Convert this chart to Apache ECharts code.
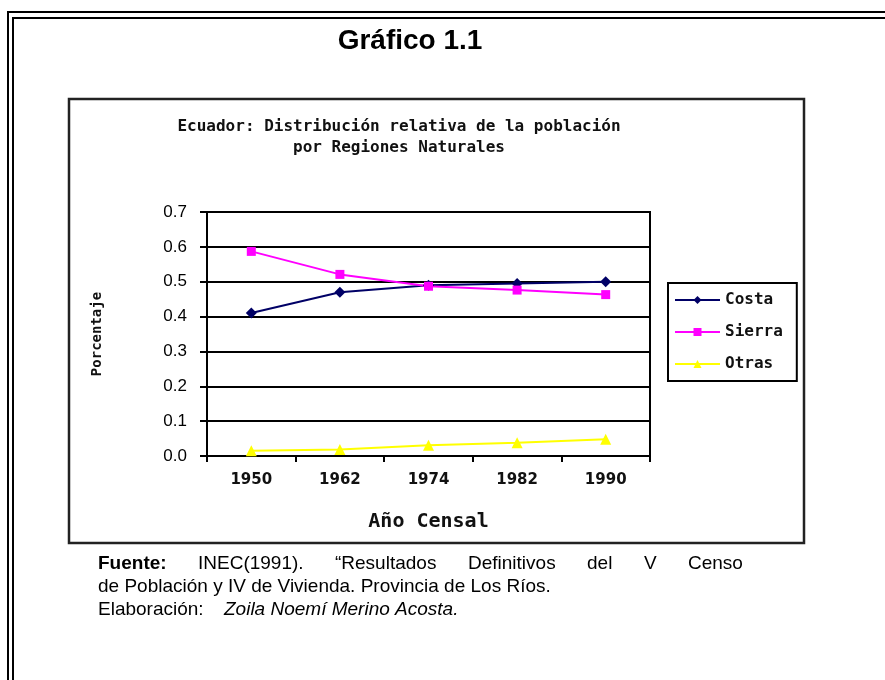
<!DOCTYPE html>
<html>
<head>
<meta charset="utf-8">
<script src="https://cdn.jsdelivr.net/npm/echarts@6/dist/echarts.min.js"></script>
<style>
  html, body { margin: 0; padding: 0; background: #fff; }
  #main { width: 885px; height: 680px; }
</style>
</head>
<body>
<div id="main"></div>
<script>
// datos
var anios = ['1950', '1962', '1974', '1982', '1990'];
var costa = [0.41, 0.47, 0.49, 0.495, 0.50];
var sierra = [0.587, 0.521, 0.487, 0.476, 0.463];
var otras = [0.015, 0.019, 0.031, 0.038, 0.048];
var yTicks = [0, 0.1, 0.2, 0.3, 0.4, 0.5, 0.6, 0.7];

var pixFont = 'DejaVu Sans Mono';
var txtFont = '19px "Liberation Sans", Arial';

var myChart = echarts.init(document.getElementById('main'));

var option = {
    backgroundColor: '#fff',
    animation: false,
    graphic: [
        // doble marco exterior
        { type: 'rect', shape: { x: 8, y: 12, width: 1000, height: 1000 }, style: { fill: null, stroke: '#000', lineWidth: 2 }, silent: true },
        { type: 'rect', shape: { x: 13, y: 18, width: 1000, height: 1000 }, style: { fill: null, stroke: '#000', lineWidth: 2 }, silent: true },
        // marco del grafico
        { type: 'rect', shape: { x: 69, y: 99, width: 735, height: 444 }, style: { fill: null, stroke: '#222', lineWidth: 2.5 }, silent: true, z: 10 },
        { type: 'text', style: { text: 'Gráfico 1.1', x: 410, y: 41, align: 'center', verticalAlign: 'middle', font: 'bold 28px "Liberation Sans", Arial', fill: '#000' } },
        { type: 'text', style: { text: 'Ecuador: Distribución relativa de la población', x: 399, y: 127, align: 'center', verticalAlign: 'middle', font: 'bold 16px "DejaVu Sans Mono"', fill: '#111' } },
        { type: 'text', style: { text: 'por Regiones Naturales', x: 399, y: 148, align: 'center', verticalAlign: 'middle', font: 'bold 16px "DejaVu Sans Mono"', fill: '#111' } },
        // fuente (linea justificada)
        { type: 'text', style: { text: 'Fuente:', x: 98, y: 564, verticalAlign: 'middle', font: 'bold ' + txtFont, fill: '#000' } },
        { type: 'text', style: { text: 'INEC(1991).', x: 198, y: 564, verticalAlign: 'middle', font: txtFont, fill: '#000' } },
        { type: 'text', style: { text: '“Resultados', x: 335, y: 564, verticalAlign: 'middle', font: txtFont, fill: '#000' } },
        { type: 'text', style: { text: 'Definitivos', x: 468, y: 564, verticalAlign: 'middle', font: txtFont, fill: '#000' } },
        { type: 'text', style: { text: 'del', x: 587, y: 564, verticalAlign: 'middle', font: txtFont, fill: '#000' } },
        { type: 'text', style: { text: 'V', x: 644, y: 564, verticalAlign: 'middle', font: txtFont, fill: '#000' } },
        { type: 'text', style: { text: 'Censo', x: 688, y: 564, verticalAlign: 'middle', font: txtFont, fill: '#000' } },
        { type: 'text', style: { text: 'de Población y IV de Vivienda. Provincia de Los Ríos.', x: 98, y: 587, verticalAlign: 'middle', font: txtFont, fill: '#000' } },
        { type: 'text', style: { text: 'Elaboración:', x: 98, y: 610, verticalAlign: 'middle', font: txtFont, fill: '#000' } },
        { type: 'text', style: { text: 'Zoila Noemí Merino Acosta.', x: 224, y: 610, verticalAlign: 'middle', font: 'italic ' + txtFont, fill: '#000' } }
    ],
    grid: {
        left: 207, right: 235, top: 212, bottom: 224,
        show: true, borderColor: '#000', borderWidth: 2, backgroundColor: '#fff'
    },
    legend: {
        orient: 'vertical',
        left: 668, top: 283,
        padding: [9, 14, 9, 6],
        itemGap: 16,
        itemWidth: 45, itemHeight: 10,
        borderColor: '#000', borderWidth: 2,
        backgroundColor: '#fff',
        textStyle: { fontFamily: pixFont, fontWeight: 'bold', fontSize: 16, color: '#111' },
        data: ['Costa', 'Sierra', 'Otras']
    },
    xAxis: {
        type: 'category',
        data: anios,
        boundaryGap: true,
        name: 'Año Censal',
        nameLocation: 'middle',
        nameGap: 56,
        nameTextStyle: { fontFamily: pixFont, fontWeight: 'bold', fontSize: 20, color: '#111' },
        axisLine: { lineStyle: { color: '#000', width: 2 } },
        axisTick: { show: true, length: 6, lineStyle: { color: '#000', width: 2 } },
        axisLabel: { margin: 17, fontFamily: 'DejaVu Sans', fontWeight: 'bold', fontSize: 15, color: '#111' }
    },
    yAxis: {
        type: 'value',
        min: 0, max: 0.7, interval: 0.1,
        name: 'Porcentaje',
        nameLocation: 'middle',
        nameRotate: 90,
        nameGap: 103,
        nameTextStyle: { fontFamily: pixFont, fontWeight: 'bold', fontSize: 14, color: '#111' },
        axisLine: { show: true, lineStyle: { color: '#000', width: 2 } },
        axisTick: { show: true, length: 7, lineStyle: { color: '#000', width: 2 } },
        axisLabel: {
            margin: 20,
            fontFamily: '"Liberation Sans", Arial', fontSize: 17, color: '#000',
            formatter: function (v) { return v.toFixed(1); },
            customValues: yTicks
        },
        splitLine: { lineStyle: { color: '#000', width: 2 } }
    },
    series: [
        {
            name: 'Costa', type: 'line', data: costa,
            symbol: 'diamond', symbolSize: 11,
            itemStyle: { color: '#000066' },
            lineStyle: { color: '#000066', width: 2 }
        },
        {
            name: 'Sierra', type: 'line', data: sierra,
            symbol: 'rect', symbolSize: 9,
            itemStyle: { color: '#ff00ff' },
            lineStyle: { color: '#ff00ff', width: 2 }
        },
        {
            name: 'Otras', type: 'line', data: otras,
            symbol: 'triangle', symbolSize: 11,
            itemStyle: { color: '#ffff00' },
            lineStyle: { color: '#ffff00', width: 2 }
        }
    ]
};

myChart.setOption(option);
</script>
</body>
</html>
